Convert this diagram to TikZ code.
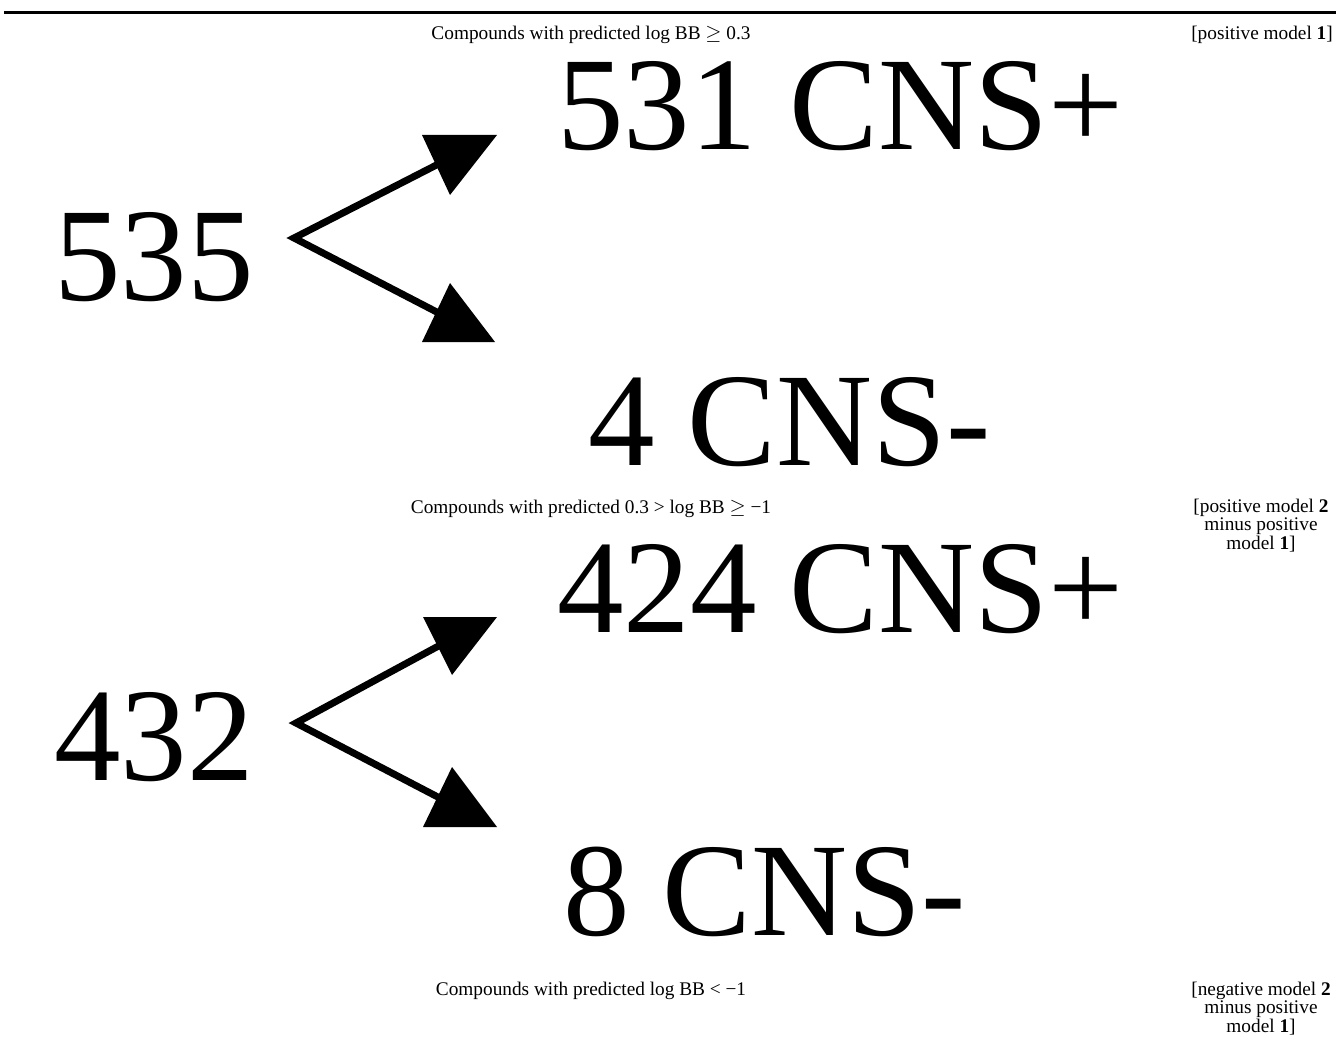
\documentclass[tikz,border=0pt]{standalone}
\usepackage{fontspec}
\setmainfont{Liberation Serif}
\newcommand{\sidelabel}[1]{\begin{tabular}[t]{@{}c@{}}#1\end{tabular}}
\begin{document}
\begin{tikzpicture}[x=1pt,y=-1pt,
  caption/.style={font=\fontsize{19.3}{18.5}\selectfont, inner sep=0pt, anchor=base},
  side/.style={font=\fontsize{19.3}{18.5}\selectfont, inner sep=0pt, anchor=base},
  big/.style={font=\fontsize{133}{133}\selectfont, inner sep=0pt, anchor=base west},
  splitline/.style={line width=7pt, line join=miter, line cap=butt},
  head/.style={fill=black}]
\path[use as bounding box, fill=white] (0,0) rectangle (1336,1043);
\draw[line width=3pt] (4,12.5) -- (1336,12.5);

% captions
\node[caption] (c1) at (591,40) {Compounds with predicted log BB $\geq$ 0.3};
\node[side, anchor=base east] (s1) at (1333,40) {[positive model \textbf{1}]};
\node[caption] (c2) at (591,513) {Compounds with predicted 0.3 > log BB $\geq$ −1};
\node[side] (s2) at (1261,512) {\sidelabel{[positive model \textbf{2}\\minus positive\\model \textbf{1}]}};
\node[caption] (c3) at (591,995) {Compounds with predicted log BB < −1};
\node[side] (s3) at (1261,995) {\sidelabel{[negative model \textbf{2}\\minus positive\\model \textbf{1}]}};

% first group
\node[big] (n1) at (54,300) {535};
\node[big] (p1) at (557,150) {531 CNS+};
\node[big] (m1) at (588,465) {4 CNS-};
\coordinate (b1) at (294,238);
\coordinate (u1) at (456,155);
\coordinate (l1) at (456,322);
\draw[splitline] (u1) -- (b1) -- (l1);
\fill[head] (422,135) -- (497,135) -- (450,195) -- cycle;
\fill[head] (422,342) -- (495,342) -- (450,283) -- cycle;

% second group
\node[big] (n2) at (54,780) {432};
\node[big] (p2) at (557,632) {424 CNS+};
\node[big] (m2) at (563,935) {8 CNS-};
\coordinate (b2) at (296,723);
\coordinate (u2) at (457,636);
\coordinate (l2) at (457,807);
\draw[splitline] (u2) -- (b2) -- (l2);
\fill[head] (423,617) -- (497,617) -- (452,675) -- cycle;
\fill[head] (423,827) -- (497,827) -- (452,767) -- cycle;
\end{tikzpicture}
\end{document}
